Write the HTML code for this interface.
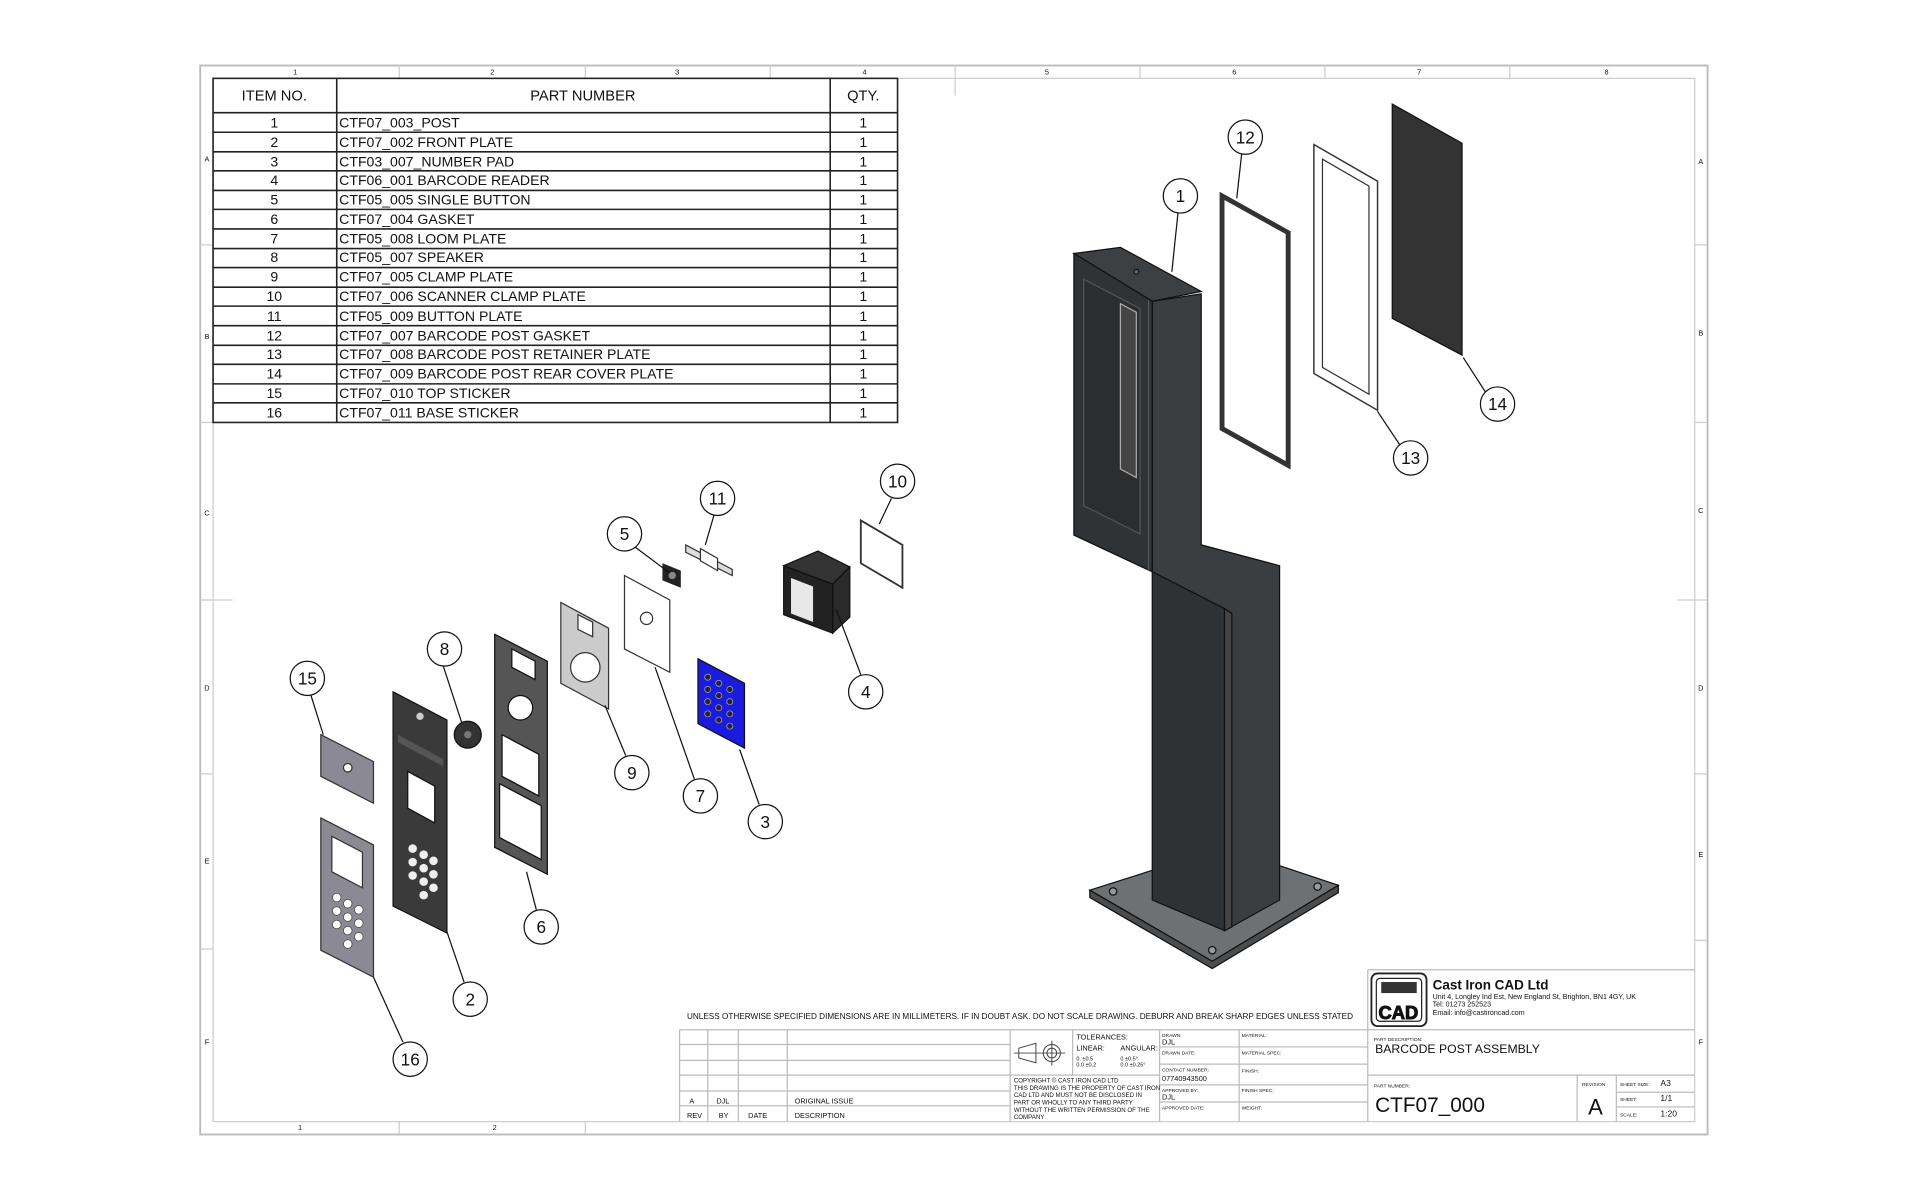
<!DOCTYPE html>
<html><head><meta charset="utf-8"><style>
html,body{margin:0;padding:0;background:#fff;}
svg{display:block;}
text{font-family:"Liberation Sans",sans-serif;fill:#111;}
</style></head><body>
<svg width="1920" height="1200" viewBox="0 0 1568 980" preserveAspectRatio="none" xmlns="http://www.w3.org/2000/svg">
<rect x="0" y="0" width="1568" height="980" fill="#fff"/>
<!-- frame -->
<rect x="163.5" y="53.5" width="1231" height="873" fill="none" stroke="#bbb" stroke-width="1.5"/>
<rect x="174" y="64" width="1210" height="852" fill="none" stroke="#ccc" stroke-width="1"/>
<g stroke="#ccc" stroke-width="1">
<line x1="326" y1="53" x2="326" y2="64"/><line x1="478" y1="53" x2="478" y2="64"/><line x1="629" y1="53" x2="629" y2="64"/><line x1="780" y1="53" x2="780" y2="78"/><line x1="931" y1="53" x2="931" y2="64"/><line x1="1082" y1="53" x2="1082" y2="64"/><line x1="1233" y1="53" x2="1233" y2="64"/>
<line x1="326" y1="916" x2="326" y2="926"/><line x1="478" y1="916" x2="478" y2="926"/>
<line x1="163" y1="200" x2="174" y2="200"/><line x1="163" y1="345" x2="174" y2="345"/><line x1="163" y1="490" x2="190" y2="490"/><line x1="163" y1="632" x2="174" y2="632"/><line x1="163" y1="775" x2="174" y2="775"/>
<line x1="1384" y1="200" x2="1394" y2="200"/><line x1="1384" y1="345" x2="1394" y2="345"/><line x1="1370" y1="490" x2="1394" y2="490"/><line x1="1384" y1="632" x2="1394" y2="632"/><line x1="1384" y1="768" x2="1394" y2="768"/>
</g>
<g font-size="6" text-anchor="middle">
<text x="241" y="61">1</text><text x="402" y="61">2</text><text x="553" y="61">3</text><text x="706" y="61">4</text><text x="855" y="61">5</text><text x="1008" y="61">6</text><text x="1159" y="61">7</text><text x="1312" y="61">8</text>
<text x="245" y="923">1</text><text x="404" y="923">2</text>
<text x="169" y="132">A</text><text x="169" y="277">B</text><text x="169" y="421">C</text><text x="169" y="564">D</text><text x="169" y="705">E</text><text x="169" y="853">F</text>
<text x="1389" y="134">A</text><text x="1389" y="274">B</text><text x="1389" y="419">C</text><text x="1389" y="564">D</text><text x="1389" y="700">E</text><text x="1389" y="853">F</text>
</g>
<!-- BOM table -->
<g stroke="#222" stroke-width="1.3" fill="none">
<rect x="174" y="64" width="559" height="281"/>
<line x1="275" y1="64" x2="275" y2="345"/><line x1="678" y1="64" x2="678" y2="345"/>
<line x1="174" y1="92" x2="733" y2="92"/>
<line x1="174" y1="108" x2="733" y2="108"/><line x1="174" y1="124" x2="733" y2="124"/><line x1="174" y1="139.5" x2="733" y2="139.5"/><line x1="174" y1="155.5" x2="733" y2="155.5"/><line x1="174" y1="171" x2="733" y2="171"/><line x1="174" y1="187" x2="733" y2="187"/><line x1="174" y1="203" x2="733" y2="203"/><line x1="174" y1="218.5" x2="733" y2="218.5"/><line x1="174" y1="234.5" x2="733" y2="234.5"/><line x1="174" y1="250" x2="733" y2="250"/><line x1="174" y1="266" x2="733" y2="266"/><line x1="174" y1="282" x2="733" y2="282"/><line x1="174" y1="297.5" x2="733" y2="297.5"/><line x1="174" y1="313.5" x2="733" y2="313.5"/><line x1="174" y1="329" x2="733" y2="329"/>
</g>
<g font-size="12">
<text x="224" y="82" text-anchor="middle">ITEM NO.</text><text x="476" y="82" text-anchor="middle">PART NUMBER</text><text x="705" y="82" text-anchor="middle">QTY.</text>
</g>
<g font-size="11.5">
<g text-anchor="middle">
<text x="224" y="104">1</text><text x="224" y="120">2</text><text x="224" y="136">3</text><text x="224" y="151">4</text><text x="224" y="167">5</text><text x="224" y="183">6</text><text x="224" y="199">7</text><text x="224" y="214">8</text><text x="224" y="230">9</text><text x="224" y="246">10</text><text x="224" y="262">11</text><text x="224" y="278">12</text><text x="224" y="293">13</text><text x="224" y="309">14</text><text x="224" y="325">15</text><text x="224" y="341">16</text>
<text x="705" y="104">1</text><text x="705" y="120">1</text><text x="705" y="136">1</text><text x="705" y="151">1</text><text x="705" y="167">1</text><text x="705" y="183">1</text><text x="705" y="199">1</text><text x="705" y="214">1</text><text x="705" y="230">1</text><text x="705" y="246">1</text><text x="705" y="262">1</text><text x="705" y="278">1</text><text x="705" y="293">1</text><text x="705" y="309">1</text><text x="705" y="325">1</text><text x="705" y="341">1</text>
</g>
<text x="277" y="104">CTF07_003_POST</text>
<text x="277" y="120">CTF07_002 FRONT PLATE</text>
<text x="277" y="136">CTF03_007_NUMBER PAD</text>
<text x="277" y="151">CTF06_001 BARCODE READER</text>
<text x="277" y="167">CTF05_005 SINGLE BUTTON</text>
<text x="277" y="183">CTF07_004 GASKET</text>
<text x="277" y="199">CTF05_008 LOOM PLATE</text>
<text x="277" y="214">CTF05_007 SPEAKER</text>
<text x="277" y="230">CTF07_005 CLAMP PLATE</text>
<text x="277" y="246">CTF07_006 SCANNER CLAMP PLATE</text>
<text x="277" y="262">CTF05_009 BUTTON PLATE</text>
<text x="277" y="278">CTF07_007 BARCODE POST GASKET</text>
<text x="277" y="293">CTF07_008 BARCODE POST RETAINER PLATE</text>
<text x="277" y="309">CTF07_009 BARCODE POST REAR COVER PLATE</text>
<text x="277" y="325">CTF07_010 TOP STICKER</text>
<text x="277" y="341">CTF07_011 BASE STICKER</text>
</g>

<!-- POST -->
<g stroke="#111" stroke-width="1">
<polygon points="890,727 1000,692 1093,723 990,785" fill="#6e7173"/>
<polygon points="890,727 990,785 1093,723 1093,729 990,791 890,733" fill="#4a4c4e"/>
<circle cx="909" cy="728" r="3" fill="#999"/><circle cx="990" cy="776" r="3" fill="#999"/><circle cx="1076" cy="724" r="3" fill="#999"/>
<polygon points="941,246 981,240 981,445 1045,462 1045,735 1000,760 1000,497 941,467" fill="#3b3e40"/>
<polygon points="941,467 1000,497 1000,760 941,735" fill="#2f3234"/>
<polygon points="1000,497 1006,501 1006,757 1000,760" fill="#444"/>
<polygon points="877,207 915,202 981,238 941,246" fill="#3d4042"/>
<polygon points="877,207 941,246 941,467 877,437" fill="#303335"/>
<polygon points="885,228 931,252 931,436 885,413" fill="#2b2d2f" stroke="#555"/>
<polygon points="915,248 928,255 928,390 915,383" fill="#444" stroke="#aaa"/>
<line x1="938" y1="245" x2="938" y2="466" stroke="#555"/>
<circle cx="928" cy="222" r="2" fill="#666"/>
</g>
<!-- 12,13,14 -->
<polygon points="998,160 1052,190 1052,380 998,350" fill="#fff" stroke="#333" stroke-width="4"/>
<polygon points="1073,118 1125,148 1125,335 1073,305" fill="#fff" stroke="#333" stroke-width="1.2"/>
<polygon points="1080,130 1118,152 1118,322 1080,300" fill="none" stroke="#333" stroke-width="1"/>
<polygon points="1137,85 1194,117 1194,290 1137,260" fill="#333" stroke="#111"/>

<!-- lower-left parts -->
<polygon points="262,668 305,690 305,798 262,776" fill="#8b8a94" stroke="#333"/>
<polygon points="271,683 296,696 296,725 271,712" fill="#fff" stroke="#333"/>
<g fill="#fff" stroke="#444" stroke-width=".6">
<circle cx="275" cy="733" r="3.5"/><circle cx="284" cy="738" r="3.5"/><circle cx="293" cy="743" r="3.5"/>
<circle cx="275" cy="744" r="3.5"/><circle cx="284" cy="749" r="3.5"/><circle cx="293" cy="754" r="3.5"/>
<circle cx="275" cy="755" r="3.5"/><circle cx="284" cy="760" r="3.5"/><circle cx="293" cy="765" r="3.5"/>
<circle cx="284" cy="771" r="3.5"/>
</g>
<polygon points="262,600 305,622 305,656 262,634" fill="#8b8a94" stroke="#333"/>
<circle cx="284" cy="627" r="3.5" fill="#fff" stroke="#333"/>
<polygon points="321,565 365,588 365,762 321,740" fill="#3a3a3a" stroke="#111"/>
<circle cx="343" cy="585" r="3" fill="#ccc"/>
<polygon points="333,630 355,642 355,672 333,660" fill="#fff" stroke="#111"/>
<g fill="#eee">
<circle cx="337" cy="693" r="3.5"/><circle cx="346" cy="698" r="3.5"/><circle cx="354" cy="703" r="3.5"/>
<circle cx="337" cy="704" r="3.5"/><circle cx="346" cy="709" r="3.5"/><circle cx="354" cy="714" r="3.5"/>
<circle cx="337" cy="715" r="3.5"/><circle cx="346" cy="720" r="3.5"/><circle cx="354" cy="725" r="3.5"/>
<circle cx="346" cy="731" r="3.5"/>
</g>
<polygon points="325,600 362,620 362,626 325,606" fill="#555"/>
<circle cx="382" cy="600" r="11" fill="#333" stroke="#111"/><circle cx="382" cy="600" r="3" fill="#777"/>
<polygon points="404,518 447,540 447,714 404,692" fill="#555" stroke="#111"/>
<polygon points="418,530 437,540 437,555 418,545" fill="#fff" stroke="#111"/>
<circle cx="425" cy="578" r="10" fill="#fff" stroke="#111"/>
<polygon points="410,600 440,616 440,650 410,634" fill="#fff" stroke="#111"/>
<polygon points="408,640 442,658 442,702 408,684" fill="#fff" stroke="#111"/>
<polygon points="458,492 497,513 497,579 458,558" fill="#cbcbcb" stroke="#333"/>
<polygon points="472,502 484,508 484,520 472,514" fill="#fff" stroke="#333"/>
<circle cx="478" cy="545" r="12" fill="#fff" stroke="#333"/>
<polygon points="510,470 547,490 547,549 510,530" fill="#fff" stroke="#333"/>
<circle cx="528" cy="505" r="5" fill="#fff" stroke="#333"/>
<polygon points="541,460 556,466 556,480 541,474" fill="#222"/>
<circle cx="549" cy="470" r="3" fill="#888"/>
<polygon points="560,445 598,465 598,470 560,451" fill="#ddd" stroke="#333"/>
<polygon points="572,448 586,456 586,466 572,458" fill="#fff" stroke="#333"/>
<polygon points="570,538 608,558 608,611 570,591" fill="#1b1bdc" stroke="#111"/>
<g fill="#223" stroke="#aab" stroke-width=".6">
<circle cx="578" cy="553" r="2.5"/><circle cx="587" cy="558" r="2.5"/><circle cx="596" cy="563" r="2.5"/>
<circle cx="578" cy="563" r="2.5"/><circle cx="587" cy="568" r="2.5"/><circle cx="596" cy="573" r="2.5"/>
<circle cx="578" cy="573" r="2.5"/><circle cx="587" cy="578" r="2.5"/><circle cx="596" cy="583" r="2.5"/>
<circle cx="578" cy="583" r="2.5"/><circle cx="587" cy="588" r="2.5"/><circle cx="596" cy="593" r="2.5"/>
</g>
<polygon points="640,462 668,450 694,463 680,477" fill="#333" stroke="#111"/>
<polygon points="680,477 694,463 694,504 680,517" fill="#2a2a2a" stroke="#111"/>
<polygon points="640,462 680,477 680,517 640,502" fill="#222" stroke="#111"/>
<polygon points="646,472 664,479 664,508 646,501" fill="#e8e8e8"/>
<polygon points="703,425 737,445 737,480 703,460" fill="#fff" stroke="#333" stroke-width="1.5"/>

<!-- balloons -->
<g fill="#fff" stroke="#111" stroke-width="1">
<circle cx="964" cy="160" r="14"/><circle cx="1017" cy="112" r="14"/><circle cx="1152" cy="374" r="14"/><circle cx="1223" cy="330" r="14"/>
<circle cx="733" cy="393" r="14"/><circle cx="586" cy="407" r="14"/><circle cx="510" cy="436" r="14"/><circle cx="707" cy="565" r="14"/>
<circle cx="363" cy="530" r="14"/><circle cx="251" cy="554" r="14"/><circle cx="516" cy="631" r="14"/><circle cx="572" cy="650" r="14"/>
<circle cx="625" cy="671" r="14"/><circle cx="442" cy="757" r="14"/><circle cx="384" cy="816" r="14"/><circle cx="335" cy="865" r="14"/>
</g>
<g stroke="#111" stroke-width="1">
<line x1="962" y1="174" x2="957" y2="222"/><line x1="1014" y1="126" x2="1010" y2="162"/><line x1="1143" y1="363" x2="1125" y2="336"/><line x1="1213" y1="320" x2="1195" y2="292"/>
<line x1="728" y1="407" x2="718" y2="428"/><line x1="583" y1="421" x2="576" y2="445"/><line x1="519" y1="447" x2="547" y2="468"/><line x1="703" y1="551" x2="683" y2="498"/>
<line x1="362" y1="544" x2="377" y2="590"/><line x1="254" y1="568" x2="264" y2="600"/><line x1="511" y1="617" x2="494" y2="576"/><line x1="567" y1="636" x2="535" y2="545"/>
<line x1="620" y1="657" x2="604" y2="612"/><line x1="438" y1="743" x2="430" y2="712"/><line x1="379" y1="802" x2="365" y2="761"/><line x1="329" y1="851" x2="305" y2="798"/>
</g>
<g font-size="14" text-anchor="middle">
<text x="964" y="165">1</text><text x="1017" y="117">12</text><text x="1152" y="379">13</text><text x="1223" y="335">14</text>
<text x="733" y="398">10</text><text x="586" y="412">11</text><text x="510" y="441">5</text><text x="707" y="570">4</text>
<text x="363" y="535">8</text><text x="251" y="559">15</text><text x="516" y="636">9</text><text x="572" y="655">7</text>
<text x="625" y="676">3</text><text x="442" y="762">6</text><text x="384" y="821">2</text><text x="335" y="870">16</text>
</g>

<!-- title block -->
<text x="561" y="832" font-size="7" textLength="544" lengthAdjust="spacingAndGlyphs">UNLESS OTHERWISE SPECIFIED DIMENSIONS ARE IN MILLIMETERS. IF IN DOUBT ASK. DO NOT SCALE DRAWING. DEBURR AND BREAK SHARP EDGES UNLESS STATED</text>
<g stroke="#bbb" stroke-width="1" fill="none">
<line x1="555" y1="841" x2="1384" y2="841"/>
<line x1="555" y1="841" x2="555" y2="916"/><line x1="578" y1="841" x2="578" y2="916"/><line x1="603" y1="841" x2="603" y2="916"/><line x1="643" y1="841" x2="643" y2="916"/><line x1="825" y1="841" x2="825" y2="916"/>
<line x1="555" y1="853" x2="825" y2="853"/><line x1="555" y1="866" x2="825" y2="866"/><line x1="555" y1="878" x2="825" y2="878"/><line x1="555" y1="891" x2="825" y2="891"/><line x1="555" y1="903" x2="825" y2="903"/>
<line x1="876" y1="841" x2="876" y2="878"/><line x1="825" y1="878" x2="947" y2="878"/>
<line x1="947" y1="841" x2="947" y2="916"/><line x1="1012" y1="841" x2="1012" y2="916"/>
<line x1="947" y1="855" x2="1117" y2="855"/><line x1="947" y1="869" x2="1117" y2="869"/><line x1="947" y1="886" x2="1117" y2="886"/><line x1="947" y1="900" x2="1117" y2="900"/>
<line x1="1117" y1="792" x2="1117" y2="916"/><line x1="1117" y1="792" x2="1384" y2="792"/>
<line x1="1117" y1="878" x2="1384" y2="878"/>
<line x1="1288" y1="878" x2="1288" y2="916"/><line x1="1320" y1="878" x2="1320" y2="916"/>
<line x1="1320" y1="892" x2="1384" y2="892"/><line x1="1320" y1="904" x2="1384" y2="904"/>
</g>
<g font-size="6">
<text x="563" y="901">A</text><text x="585" y="901">DJL</text><text x="649" y="901">ORIGINAL ISSUE</text>
<text x="561" y="913">REV</text><text x="587" y="913">BY</text><text x="611" y="913">DATE</text><text x="649" y="913">DESCRIPTION</text>
<text x="879" y="849">TOLERANCES:</text><text x="879" y="858">LINEAR:</text><text x="915" y="858">ANGULAR:</text>
<text x="879" y="866" font-size="4.5">0. ±0.5</text><text x="879" y="871" font-size="4.5">0.0 ±0.2</text><text x="915" y="866" font-size="4.5">0 ±0.5°</text><text x="915" y="871" font-size="4.5">0.0 ±0.25°</text>
<text x="828" y="884" font-size="5">COPYRIGHT © CAST IRON CAD LTD</text>
<text x="828" y="890" font-size="5">THIS DRAWING IS THE PROPERTY OF CAST IRON</text>
<text x="828" y="896" font-size="5">CAD LTD AND MUST NOT BE DISCLOSED IN</text>
<text x="828" y="902" font-size="5">PART OR WHOLLY TO ANY THIRD PARTY</text>
<text x="828" y="908" font-size="5">WITHOUT THE WRITTEN PERMISSION OF THE</text>
<text x="828" y="914" font-size="5">COMPANY</text>
<text x="949" y="847" font-size="4">DRAWN:</text><text x="949" y="853">DJL</text>
<text x="949" y="861" font-size="4">DRAWN DATE:</text>
<text x="949" y="875" font-size="4">CONTACT NUMBER:</text><text x="949" y="883">07740943500</text>
<text x="949" y="892" font-size="4">APPROVED BY:</text><text x="949" y="898">DJL</text>
<text x="949" y="906" font-size="4">APPROVED DATE:</text>
<text x="1014" y="847" font-size="4">MATERIAL:</text><text x="1014" y="861" font-size="4">MATERIAL SPEC:</text><text x="1014" y="876" font-size="4">FINISH:</text><text x="1014" y="892" font-size="4">FINISH SPEC:</text><text x="1014" y="906" font-size="4">WEIGHT:</text>
</g>
<g stroke="#444" fill="none" stroke-width=".8">
<polygon points="832,856 846,852 846,868 832,864"/><line x1="828" y1="860" x2="870" y2="860"/><circle cx="859" cy="860" r="7"/><circle cx="859" cy="860" r="4"/><line x1="859" y1="850" x2="859" y2="870"/>
</g>
<rect x="1120" y="795" width="45" height="43" rx="5" fill="#fff" stroke="#222" stroke-width="1.5"/>
<rect x="1124" y="799" width="37" height="35" rx="3" fill="none" stroke="#222" stroke-width="1"/>
<rect x="1128" y="802" width="29" height="9" fill="#333"/>
<text x="1142" y="832" font-size="15" font-weight="bold" text-anchor="middle" fill="#fff" stroke="#111" stroke-width=".8">CAD</text>
<text x="1170" y="808" font-size="11" font-weight="bold">Cast Iron CAD Ltd</text>
<text x="1170" y="816" font-size="5.8">Unit 4, Longley Ind Est, New England St, Brighton, BN1 4GY, UK</text>
<text x="1170" y="822" font-size="5.8">Tel: 01273 252523</text>
<text x="1170" y="829" font-size="5.8">Email: info@castironcad.com</text>
<text x="1122" y="850" font-size="4">PART DESCRIPTION:</text>
<text x="1123" y="860" font-size="10">BARCODE POST ASSEMBLY</text>
<text x="1122" y="888" font-size="4">PART NUMBER:</text>
<text x="1123" y="908" font-size="17">CTF07_000</text>
<text x="1292" y="887" font-size="4">REVISION</text>
<text x="1303" y="910" font-size="18" text-anchor="middle">A</text>
<text x="1323" y="887" font-size="4">SHEET SIZE:</text><text x="1356" y="887" font-size="7">A3</text>
<text x="1323" y="899" font-size="4">SHEET:</text><text x="1356" y="899" font-size="7">1/1</text>
<text x="1323" y="912" font-size="4">SCALE:</text><text x="1356" y="912" font-size="7">1:20</text>
</svg>
</body></html>
